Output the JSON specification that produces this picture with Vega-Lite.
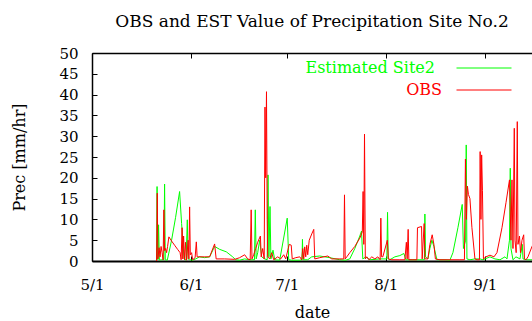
{
"$schema": "https://vega.github.io/schema/vega-lite/v6.json",
"width": 440, "height": 208,
"autosize": {"type": "none"},
"padding": {"left": 92, "top": 53, "right": 0, "bottom": 60},
"background": "white",
"title": {"text": "OBS and EST Value of Precipitation Site No.2", "font": "DejaVu Serif", "fontSize": 17, "fontWeight": "normal", "color": "black", "anchor": "middle", "baseline": "alphabetic", "offset": 2},
"config": {"font": "DejaVu Serif", "view": {"stroke": null}, "axis": {"labelFont": "DejaVu Serif", "titleFont": "DejaVu Serif", "labelColor": "black", "titleColor": "black", "domainColor": "black", "tickColor": "black", "grid": false}, "legend": {"labelFont": "DejaVu Serif"}},
"data": {"values": [
{"date":"2010-05-21T05:15","series":"Estimated Site2","value":0},
{"date":"2010-05-21T09:02","series":"Estimated Site2","value":17.9},
{"date":"2010-05-21T15:03","series":"Estimated Site2","value":0.3},
{"date":"2010-05-21T20:18","series":"Estimated Site2","value":8.7},
{"date":"2010-05-22T02:20","series":"Estimated Site2","value":0.2},
{"date":"2010-05-22T18:53","series":"Estimated Site2","value":0.3},
{"date":"2010-05-23T12:11","series":"Estimated Site2","value":0.3},
{"date":"2010-05-23T17:27","series":"Estimated Site2","value":18.5},
{"date":"2010-05-23T22:44","series":"Estimated Site2","value":0.3},
{"date":"2010-05-24T13:46","series":"Estimated Site2","value":0.2},
{"date":"2010-05-25T22:08","series":"Estimated Site2","value":5.0},
{"date":"2010-05-27T04:13","series":"Estimated Site2","value":10.5},
{"date":"2010-05-28T10:19","series":"Estimated Site2","value":16.7},
{"date":"2010-05-29T01:22","series":"Estimated Site2","value":9.0},
{"date":"2010-05-29T20:10","series":"Estimated Site2","value":0.5},
{"date":"2010-05-30T11:13","series":"Estimated Site2","value":0.2},
{"date":"2010-05-30T20:14","series":"Estimated Site2","value":9.9},
{"date":"2010-05-31T02:15","series":"Estimated Site2","value":0.5},
{"date":"2010-05-31T13:32","series":"Estimated Site2","value":0.3},
{"date":"2010-06-01T12:07","series":"Estimated Site2","value":0.2},
{"date":"2010-06-02T10:41","series":"Estimated Site2","value":0.5},
{"date":"2010-06-03T16:47","series":"Estimated Site2","value":1.0},
{"date":"2010-06-05T06:24","series":"Estimated Site2","value":0.8},
{"date":"2010-06-06T20:01","series":"Estimated Site2","value":1.0},
{"date":"2010-06-08T09:37","series":"Estimated Site2","value":3.5},
{"date":"2010-06-09T23:15","series":"Estimated Site2","value":2.8},
{"date":"2010-06-12T01:39","series":"Estimated Site2","value":2.2},
{"date":"2010-06-14T01:03","series":"Estimated Site2","value":1.0},
{"date":"2010-06-14T23:37","series":"Estimated Site2","value":0.3},
{"date":"2010-06-16T05:43","series":"Estimated Site2","value":0.2},
{"date":"2010-06-17T19:20","series":"Estimated Site2","value":0.5},
{"date":"2010-06-19T08:57","series":"Estimated Site2","value":0.3},
{"date":"2010-06-20T21:04","series":"Estimated Site2","value":0.3},
{"date":"2010-06-21T03:06","series":"Estimated Site2","value":12.3},
{"date":"2010-06-21T09:52","series":"Estimated Site2","value":0.5},
{"date":"2010-06-21T21:09","series":"Estimated Site2","value":2.0},
{"date":"2010-06-22T12:11","series":"Estimated Site2","value":5.0},
{"date":"2010-06-23T03:14","series":"Estimated Site2","value":1.0},
{"date":"2010-06-24T01:48","series":"Estimated Site2","value":0.5},
{"date":"2010-06-24T20:37","series":"Estimated Site2","value":0.3},
{"date":"2010-06-25T02:38","series":"Estimated Site2","value":20.7},
{"date":"2010-06-25T09:24","series":"Estimated Site2","value":1.0},
{"date":"2010-06-25T17:41","series":"Estimated Site2","value":13.1},
{"date":"2010-06-26T00:27","series":"Estimated Site2","value":0.5},
{"date":"2010-06-26T16:15","series":"Estimated Site2","value":2.6},
{"date":"2010-06-27T05:02","series":"Estimated Site2","value":0.3},
{"date":"2010-06-28T18:40","series":"Estimated Site2","value":0.2},
{"date":"2010-07-01T03:06","series":"Estimated Site2","value":10.3},
{"date":"2010-07-01T14:23","series":"Estimated Site2","value":0.3},
{"date":"2010-07-02T12:56","series":"Estimated Site2","value":0.2},
{"date":"2010-07-05T01:08","series":"Estimated Site2","value":0.2},
{"date":"2010-07-05T18:26","series":"Estimated Site2","value":0.3},
{"date":"2010-07-05T21:27","series":"Estimated Site2","value":5.2},
{"date":"2010-07-06T01:58","series":"Estimated Site2","value":0.3},
{"date":"2010-07-07T13:19","series":"Estimated Site2","value":0.3},
{"date":"2010-07-08T19:24","series":"Estimated Site2","value":1.0},
{"date":"2010-07-11T07:36","series":"Estimated Site2","value":1.2},
{"date":"2010-07-14T10:51","series":"Estimated Site2","value":0.8},
{"date":"2010-07-17T14:04","series":"Estimated Site2","value":0.3},
{"date":"2010-07-19T11:13","series":"Estimated Site2","value":0.2},
{"date":"2010-07-20T17:18","series":"Estimated Site2","value":0.5},
{"date":"2010-07-22T06:56","series":"Estimated Site2","value":3.0},
{"date":"2010-07-23T20:33","series":"Estimated Site2","value":6.0},
{"date":"2010-07-24T09:20","series":"Estimated Site2","value":7.2},
{"date":"2010-07-24T19:06","series":"Estimated Site2","value":0.5},
{"date":"2010-07-25T17:41","series":"Estimated Site2","value":1.0},
{"date":"2010-07-26T23:47","series":"Estimated Site2","value":0.3},
{"date":"2010-07-30T03:01","series":"Estimated Site2","value":0.5},
{"date":"2010-08-01T07:41","series":"Estimated Site2","value":0.5},
{"date":"2010-08-01T12:57","series":"Estimated Site2","value":11.7},
{"date":"2010-08-01T18:14","series":"Estimated Site2","value":0.5},
{"date":"2010-08-02T06:17","series":"Estimated Site2","value":0.3},
{"date":"2010-08-03T19:54","series":"Estimated Site2","value":1.0},
{"date":"2010-08-05T09:29","series":"Estimated Site2","value":1.3},
{"date":"2010-08-06T15:35","series":"Estimated Site2","value":1.8},
{"date":"2010-08-07T06:37","series":"Estimated Site2","value":0.3},
{"date":"2010-08-08T12:43","series":"Estimated Site2","value":0.3},
{"date":"2010-08-11T15:58","series":"Estimated Site2","value":0.3},
{"date":"2010-08-13T01:48","series":"Estimated Site2","value":0.3},
{"date":"2010-08-13T05:34","series":"Estimated Site2","value":11.3},
{"date":"2010-08-13T10:49","series":"Estimated Site2","value":1.0},
{"date":"2010-08-14T04:09","series":"Estimated Site2","value":0.5},
{"date":"2010-08-14T19:12","series":"Estimated Site2","value":3.0},
{"date":"2010-08-15T10:15","series":"Estimated Site2","value":5.0},
{"date":"2010-08-16T01:18","series":"Estimated Site2","value":3.5},
{"date":"2010-08-16T23:51","series":"Estimated Site2","value":0.3},
{"date":"2010-08-19T12:03","series":"Estimated Site2","value":0.3},
{"date":"2010-08-21T01:39","series":"Estimated Site2","value":0.2},
{"date":"2010-08-22T00:14","series":"Estimated Site2","value":2.0},
{"date":"2010-08-23T13:52","series":"Estimated Site2","value":8.0},
{"date":"2010-08-24T22:13","series":"Estimated Site2","value":13.6},
{"date":"2010-08-25T07:13","series":"Estimated Site2","value":3.0},
{"date":"2010-08-25T23:47","series":"Estimated Site2","value":5.0},
{"date":"2010-08-26T04:18","series":"Estimated Site2","value":27.9},
{"date":"2010-08-26T09:33","series":"Estimated Site2","value":0.5},
{"date":"2010-08-27T08:08","series":"Estimated Site2","value":0.3},
{"date":"2010-08-28T21:45","series":"Estimated Site2","value":0.5},
{"date":"2010-08-30T11:22","series":"Estimated Site2","value":0.5},
{"date":"2010-08-31T09:56","series":"Estimated Site2","value":0.3},
{"date":"2010-09-02T14:36","series":"Estimated Site2","value":1.0},
{"date":"2010-09-04T04:13","series":"Estimated Site2","value":0.5},
{"date":"2010-09-05T17:54","series":"Estimated Site2","value":0.3},
{"date":"2010-09-07T07:32","series":"Estimated Site2","value":1.0},
{"date":"2010-09-07T22:35","series":"Estimated Site2","value":0.5},
{"date":"2010-09-08T17:18","series":"Estimated Site2","value":5.0},
{"date":"2010-09-08T23:20","series":"Estimated Site2","value":22.3},
{"date":"2010-09-09T04:35","series":"Estimated Site2","value":3.0},
{"date":"2010-09-09T19:38","series":"Estimated Site2","value":0.3},
{"date":"2010-09-10T18:12","series":"Estimated Site2","value":1.0},
{"date":"2010-09-12T00:19","series":"Estimated Site2","value":0.5},
{"date":"2010-09-12T17:37","series":"Estimated Site2","value":4.0},
{"date":"2010-09-12T22:52","series":"Estimated Site2","value":0.5},
{"date":"2010-09-14T04:58","series":"Estimated Site2","value":0.3},
{"date":"2010-09-15T18:34","series":"Estimated Site2","value":0.3},
{"date":"2010-09-16T17:08","series":"Estimated Site2","value":0.3},
{"date":"2010-05-21T05:15","series":"OBS","value":0},
{"date":"2010-05-21T10:32","series":"OBS","value":16.3},
{"date":"2010-05-21T15:03","series":"OBS","value":0.5},
{"date":"2010-05-22T00:05","series":"OBS","value":3.2},
{"date":"2010-05-22T07:36","series":"OBS","value":1.0},
{"date":"2010-05-22T15:07","series":"OBS","value":3.5},
{"date":"2010-05-22T22:39","series":"OBS","value":2.0},
{"date":"2010-05-23T06:10","series":"OBS","value":0.3},
{"date":"2010-05-23T12:11","series":"OBS","value":12.3},
{"date":"2010-05-23T17:27","series":"OBS","value":2.5},
{"date":"2010-05-24T00:59","series":"OBS","value":3.0},
{"date":"2010-05-24T08:30","series":"OBS","value":2.0},
{"date":"2010-05-24T16:02","series":"OBS","value":3.5},
{"date":"2010-05-25T01:48","series":"OBS","value":5.8},
{"date":"2010-05-25T22:08","series":"OBS","value":4.8},
{"date":"2010-05-26T20:41","series":"OBS","value":3.8},
{"date":"2010-05-27T19:16","series":"OBS","value":2.8},
{"date":"2010-05-28T14:04","series":"OBS","value":2.0},
{"date":"2010-05-28T21:36","series":"OBS","value":0.3},
{"date":"2010-05-29T05:07","series":"OBS","value":8.0},
{"date":"2010-05-29T10:23","series":"OBS","value":0.5},
{"date":"2010-05-29T16:24","series":"OBS","value":6.0},
{"date":"2010-05-29T23:55","series":"OBS","value":0.3},
{"date":"2010-05-30T07:26","series":"OBS","value":4.5},
{"date":"2010-05-30T14:58","series":"OBS","value":0.2},
{"date":"2010-05-31T02:15","series":"OBS","value":5.0},
{"date":"2010-05-31T08:17","series":"OBS","value":0.5},
{"date":"2010-05-31T13:32","series":"OBS","value":13.0},
{"date":"2010-05-31T18:48","series":"OBS","value":1.5},
{"date":"2010-06-01T04:35","series":"OBS","value":2.0},
{"date":"2010-06-01T12:07","series":"OBS","value":0.3},
{"date":"2010-06-02T06:55","series":"OBS","value":0.8},
{"date":"2010-06-02T15:57","series":"OBS","value":4.6},
{"date":"2010-06-02T21:58","series":"OBS","value":1.0},
{"date":"2010-06-05T06:24","series":"OBS","value":1.0},
{"date":"2010-06-06T20:01","series":"OBS","value":1.0},
{"date":"2010-06-08T09:37","series":"OBS","value":4.1},
{"date":"2010-06-08T20:55","series":"OBS","value":0.5},
{"date":"2010-06-11T12:52","series":"OBS","value":0.5},
{"date":"2010-06-14T16:06","series":"OBS","value":0.4},
{"date":"2010-06-16T05:43","series":"OBS","value":0.8},
{"date":"2010-06-17T19:20","series":"OBS","value":1.5},
{"date":"2010-06-18T17:54","series":"OBS","value":0.5},
{"date":"2010-06-19T12:43","series":"OBS","value":0.3},
{"date":"2010-06-19T20:14","series":"OBS","value":12.3},
{"date":"2010-06-20T02:15","series":"OBS","value":0.5},
{"date":"2010-06-20T15:03","series":"OBS","value":1.5},
{"date":"2010-06-21T06:06","series":"OBS","value":3.0},
{"date":"2010-06-21T21:09","series":"OBS","value":4.5},
{"date":"2010-06-22T17:27","series":"OBS","value":6.0},
{"date":"2010-06-22T23:28","series":"OBS","value":1.0},
{"date":"2010-06-23T10:45","series":"OBS","value":3.0},
{"date":"2010-06-23T22:03","series":"OBS","value":0.5},
{"date":"2010-06-24T04:04","series":"OBS","value":37.0},
{"date":"2010-06-24T09:20","series":"OBS","value":20.0},
{"date":"2010-06-24T15:21","series":"OBS","value":40.7},
{"date":"2010-06-24T20:37","series":"OBS","value":10.0},
{"date":"2010-06-25T00:23","series":"OBS","value":1.0},
{"date":"2010-06-25T15:26","series":"OBS","value":0.5},
{"date":"2010-06-26T06:29","series":"OBS","value":2.0},
{"date":"2010-06-26T21:31","series":"OBS","value":0.3},
{"date":"2010-06-28T03:37","series":"OBS","value":1.0},
{"date":"2010-06-29T02:11","series":"OBS","value":0.5},
{"date":"2010-06-30T00:45","series":"OBS","value":1.5},
{"date":"2010-06-30T15:48","series":"OBS","value":0.5},
{"date":"2010-07-01T18:08","series":"OBS","value":4.0},
{"date":"2010-07-02T09:11","series":"OBS","value":3.8},
{"date":"2010-07-02T16:42","series":"OBS","value":0.5},
{"date":"2010-07-03T19:02","series":"OBS","value":0.8},
{"date":"2010-07-05T01:08","series":"OBS","value":1.0},
{"date":"2010-07-05T16:10","series":"OBS","value":0.3},
{"date":"2010-07-05T23:42","series":"OBS","value":3.0},
{"date":"2010-07-06T07:13","series":"OBS","value":0.5},
{"date":"2010-07-06T14:45","series":"OBS","value":3.4},
{"date":"2010-07-06T22:16","series":"OBS","value":1.0},
{"date":"2010-07-07T05:48","series":"OBS","value":3.8},
{"date":"2010-07-07T13:19","series":"OBS","value":1.5},
{"date":"2010-07-08T00:36","series":"OBS","value":5.0},
{"date":"2010-07-08T19:24","series":"OBS","value":6.5},
{"date":"2010-07-09T10:27","series":"OBS","value":7.6},
{"date":"2010-07-09T17:58","series":"OBS","value":0.5},
{"date":"2010-07-11T07:36","series":"OBS","value":0.8},
{"date":"2010-07-13T19:48","series":"OBS","value":1.2},
{"date":"2010-07-15T01:52","series":"OBS","value":0.5},
{"date":"2010-07-17T14:04","series":"OBS","value":0.5},
{"date":"2010-07-18T20:10","series":"OBS","value":0.5},
{"date":"2010-07-19T01:26","series":"OBS","value":15.9},
{"date":"2010-07-19T06:42","series":"OBS","value":0.5},
{"date":"2010-07-19T18:45","series":"OBS","value":1.0},
{"date":"2010-07-20T17:18","series":"OBS","value":2.0},
{"date":"2010-07-22T06:56","series":"OBS","value":3.5},
{"date":"2010-07-23T20:33","series":"OBS","value":5.5},
{"date":"2010-07-24T15:21","series":"OBS","value":7.0},
{"date":"2010-07-24T21:22","series":"OBS","value":16.7},
{"date":"2010-07-25T02:38","series":"OBS","value":4.0},
{"date":"2010-07-25T07:54","series":"OBS","value":30.5},
{"date":"2010-07-25T13:55","series":"OBS","value":0.5},
{"date":"2010-07-26T01:12","series":"OBS","value":1.0},
{"date":"2010-07-26T16:15","series":"OBS","value":0.3},
{"date":"2010-07-27T14:50","series":"OBS","value":1.0},
{"date":"2010-07-28T13:23","series":"OBS","value":0.5},
{"date":"2010-07-29T11:58","series":"OBS","value":1.0},
{"date":"2010-07-30T05:17","series":"OBS","value":0.3},
{"date":"2010-07-30T10:32","series":"OBS","value":10.3},
{"date":"2010-07-30T16:34","series":"OBS","value":1.0},
{"date":"2010-07-31T01:35","series":"OBS","value":1.0},
{"date":"2010-08-01T11:27","series":"OBS","value":5.0},
{"date":"2010-08-01T18:58","series":"OBS","value":0.5},
{"date":"2010-08-02T21:17","series":"OBS","value":0.3},
{"date":"2010-08-05T09:29","series":"OBS","value":0.3},
{"date":"2010-08-06T23:07","series":"OBS","value":0.3},
{"date":"2010-08-07T10:24","series":"OBS","value":4.5},
{"date":"2010-08-07T16:25","series":"OBS","value":0.5},
{"date":"2010-08-07T23:56","series":"OBS","value":7.6},
{"date":"2010-08-08T05:11","series":"OBS","value":0.3},
{"date":"2010-08-09T11:18","series":"OBS","value":0.3},
{"date":"2010-08-10T17:24","series":"OBS","value":0.3},
{"date":"2010-08-10T21:55","series":"OBS","value":8.0},
{"date":"2010-08-12T04:45","series":"OBS","value":8.3},
{"date":"2010-08-12T09:16","series":"OBS","value":0.5},
{"date":"2010-08-13T00:19","series":"OBS","value":9.0},
{"date":"2010-08-13T05:34","series":"OBS","value":0.5},
{"date":"2010-08-14T04:09","series":"OBS","value":0.5},
{"date":"2010-08-14T19:12","series":"OBS","value":4.0},
{"date":"2010-08-15T12:30","series":"OBS","value":6.3},
{"date":"2010-08-16T01:18","series":"OBS","value":4.0},
{"date":"2010-08-16T12:35","series":"OBS","value":0.5},
{"date":"2010-08-17T22:25","series":"OBS","value":0.3},
{"date":"2010-08-21T01:39","series":"OBS","value":0.3},
{"date":"2010-08-24T04:54","series":"OBS","value":0.3},
{"date":"2010-08-25T14:45","series":"OBS","value":0.3},
{"date":"2010-08-25T22:16","series":"OBS","value":24.5},
{"date":"2010-08-26T05:48","series":"OBS","value":10.0},
{"date":"2010-08-26T13:19","series":"OBS","value":18.0},
{"date":"2010-08-26T20:50","series":"OBS","value":16.0},
{"date":"2010-08-27T08:08","series":"OBS","value":15.0},
{"date":"2010-08-27T23:11","series":"OBS","value":8.0},
{"date":"2010-08-28T21:45","series":"OBS","value":0.5},
{"date":"2010-08-29T12:48","series":"OBS","value":0.3},
{"date":"2010-08-30T07:36","series":"OBS","value":0.3},
{"date":"2010-08-30T12:52","series":"OBS","value":26.3},
{"date":"2010-08-30T18:53","series":"OBS","value":10.0},
{"date":"2010-08-31T00:09","series":"OBS","value":25.5},
{"date":"2010-08-31T06:10","series":"OBS","value":17.0},
{"date":"2010-08-31T13:42","series":"OBS","value":0.5},
{"date":"2010-09-01T08:30","series":"OBS","value":1.0},
{"date":"2010-09-02T14:36","series":"OBS","value":1.4},
{"date":"2010-09-03T20:41","series":"OBS","value":1.0},
{"date":"2010-09-04T19:16","series":"OBS","value":2.0},
{"date":"2010-09-06T08:53","series":"OBS","value":8.0},
{"date":"2010-09-07T14:58","series":"OBS","value":14.0},
{"date":"2010-09-08T17:18","series":"OBS","value":19.5},
{"date":"2010-09-09T04:35","series":"OBS","value":5.0},
{"date":"2010-09-09T12:07","series":"OBS","value":19.5},
{"date":"2010-09-09T19:38","series":"OBS","value":3.0},
{"date":"2010-09-10T05:25","series":"OBS","value":31.9},
{"date":"2010-09-10T10:41","series":"OBS","value":5.0},
{"date":"2010-09-10T19:42","series":"OBS","value":2.0},
{"date":"2010-09-11T03:59","series":"OBS","value":33.5},
{"date":"2010-09-11T09:16","series":"OBS","value":4.0},
{"date":"2010-09-11T20:33","series":"OBS","value":6.0},
{"date":"2010-09-12T04:04","series":"OBS","value":2.0},
{"date":"2010-09-12T15:21","series":"OBS","value":5.0},
{"date":"2010-09-13T04:09","series":"OBS","value":6.3},
{"date":"2010-09-13T10:10","series":"OBS","value":0.5},
{"date":"2010-09-13T21:26","series":"OBS","value":0.3},
{"date":"2010-09-14T12:29","series":"OBS","value":1.0},
{"date":"2010-09-15T18:34","series":"OBS","value":3.5},
{"date":"2010-09-16T17:08","series":"OBS","value":5.0}
]},
"encoding": {
  "y": {"field": "value", "type": "quantitative",
        "scale": {"domain": [0, 50], "nice": false},
        "axis": {"values": [0,5,10,15,20,25,30,35,40,45,50], "tickCount": 11, "labelOverlap": false, "labelFlush": false, "labelFontSize": 15, "tickSize": -5, "labelPadding": 19, "domainWidth": 1.5,
                 "title": "Prec [mm/hr]", "titleFontSize": 16, "titleFontWeight": "normal", "titlePadding": 31}}
},
"layer": [
{"mark": {"type": "line", "clip": true, "strokeWidth": 1},
 "encoding": {
  "x": {"field": "date", "type": "temporal",
        "scale": {"domain": [{"year": 2010, "month": 5, "date": 1}, {"year": 2010, "month": 9, "date": 15, "hours": 18, "minutes": 34}]},
        "axis": {"orient": "bottom", "values": [{"year": 2010, "month": 5, "date": 1}, {"year": 2010, "month": 6, "date": 1}, {"year": 2010, "month": 7, "date": 1}, {"year": 2010, "month": 8, "date": 1}, {"year": 2010, "month": 9, "date": 1}],
                 "format": "%-m/%-d", "labelFontSize": 15, "labelAngle": 0, "labelFlush": false, "labelOverlap": false, "tickSize": -5, "labelPadding": 21,
                 "domainWidth": 2, "title": "date", "titleFontSize": 16, "titleFontWeight": "normal", "titlePadding": 12}},
  "color": {"field": "series", "type": "nominal",
        "scale": {"domain": ["Estimated Site2", "OBS"], "range": ["#00ff00", "#ff0000"]},
        "legend": {"orient": "none", "legendX": 205, "legendY": 7, "direction": "vertical", "title": null, "padding": 0,
                   "labelFont": "DejaVu Serif", "labelFontSize": 16, "labelAlign": "right", "labelBaseline": "middle", "labelLimit": 0,
                   "symbolType": "stroke", "symbolSize": 100, "symbolStrokeWidth": 1, "rowPadding": 6,
                   "encode": {
                     "labels": {"update": {"x": {"signal": "datum.value === 'OBS' ? 145 : 138"}, "y": {"value": 8}, "fill": {"scale": "color", "field": "value"}, "font": {"value": "DejaVu Serif"}, "fontSize": {"value": 16}}},
                     "symbols": {"update": {"x": {"value": 187}, "y": {"value": 8}, "size": {"value": 3025}}},
                     "entries": {"update": {"width": {"value": 216}, "height": {"value": 16}}}
                   }}}
 }},
{"mark": {"type": "line", "clip": true, "opacity": 0},
 "encoding": {
  "x": {"field": "date", "type": "temporal",
        "axis": {"orient": "top", "values": [{"year": 2010, "month": 5, "date": 1}, {"year": 2010, "month": 6, "date": 1}, {"year": 2010, "month": 7, "date": 1}, {"year": 2010, "month": 8, "date": 1}, {"year": 2010, "month": 9, "date": 1}],
                 "labels": false, "tickSize": -5, "domainWidth": 1.5, "title": null}},
  "detail": {"field": "series", "type": "nominal"}
 }}
],
"resolve": {"axis": {"x": "independent"}}
}
